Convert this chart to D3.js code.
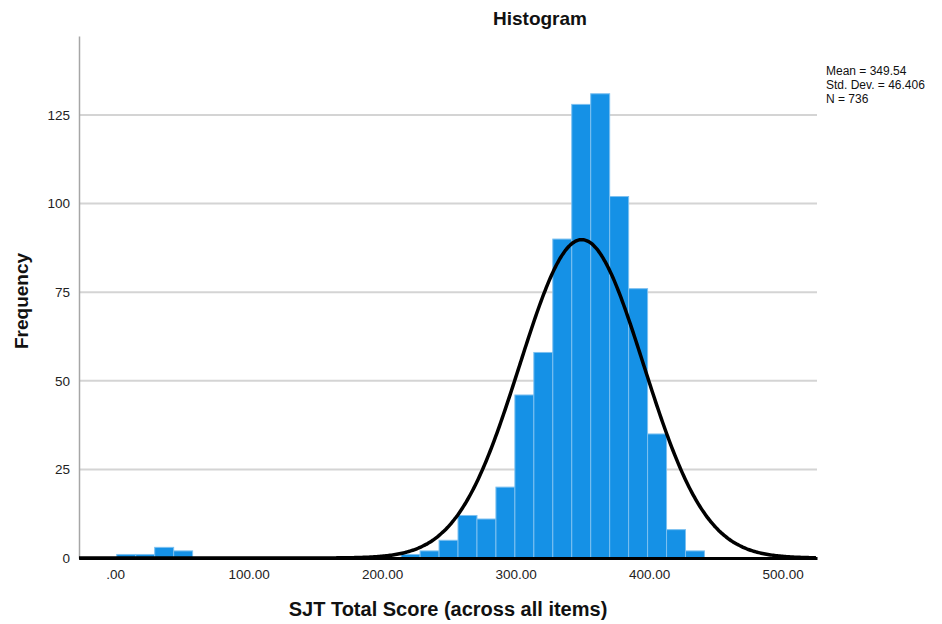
<!DOCTYPE html>
<html>
<head>
<meta charset="utf-8">
<script src="https://cdn.jsdelivr.net/npm/d3@7"></script>
<style>
  body { margin: 0; background: #fff; }
  text { font-family: "Liberation Sans", Arial, sans-serif; }
</style>
</head>
<body>
<div id="chart"></div>
<script>
// histogram counts, one per bin, starting at binStart with width binWidth
var binStart = 1.3;
var binWidth = 14.2;
var counts = [1, 1, 3, 2, 0, 0, 0, 0, 0, 0, 0, 0, 0, 0, 0, 1, 2, 5, 12, 11,
  20, 46, 58, 90, 128, 131, 102, 76, 35, 8, 2];

var xTicks = [0, 100, 200, 300, 400, 500];
var yTicks = [0, 25, 50, 75, 100, 125];

var statNames = ["Mean", "Std. Dev.", "N"];
var statValues = ["349.54", "46.406", "736"];
var mean = 349.54, sd = 46.406, n = 736;

var svgWidth = 942;
var svgHeight = 624;

var margin = { top: 36, right: 125, bottom: 66, left: 79 };
var width = svgWidth - margin.left - margin.right;
var height = svgHeight - margin.top - margin.bottom;

var svg = d3.select("#chart")
  .append("svg")
  .attr("width", svgWidth)
  .attr("height", svgHeight);

var chartGroup = svg.append("g")
  .attr("transform", `translate(${margin.left}, ${margin.top})`);

var xLinearScale = d3.scaleLinear()
  .domain([-27, 525.8])
  .range([0, width]);

var yLinearScale = d3.scaleLinear()
  .domain([0, 147.3])
  .range([height, 0]);

// grid lines
chartGroup.append("g")
  .selectAll("line")
  .data(yTicks.slice(1))
  .enter()
  .append("line")
  .attr("x1", 0)
  .attr("x2", width)
  .attr("y1", d => yLinearScale(d))
  .attr("y2", d => yLinearScale(d))
  .attr("stroke", "#d4d4d4")
  .attr("stroke-width", 2);

// bars
chartGroup.append("g")
  .selectAll("rect")
  .data(counts)
  .enter()
  .append("rect")
  .attr("x", (d, i) => xLinearScale(binStart + i * binWidth))
  .attr("width", xLinearScale(binWidth) - xLinearScale(0))
  .attr("y", d => yLinearScale(d))
  .attr("height", d => height - yLinearScale(d))
  .attr("fill", d => d > 0 ? "#1591e6" : "none")
  .attr("stroke", d => d > 0 ? "#7cc0f0" : "none")
  .attr("stroke-width", 1);

// y axis
var leftAxis = d3.axisLeft(yLinearScale)
  .tickValues(yTicks)
  .tickSize(0)
  .tickPadding(9);

var yAxis = chartGroup.append("g")
  .call(leftAxis);
yAxis.select(".domain").attr("stroke", "#a6a6a6").attr("stroke-width", 1.5);
yAxis.selectAll("text")
  .attr("font-size", "13.5px")
  .attr("font-family", "Liberation Sans, Arial, sans-serif")
  .attr("fill", "#222");

// x axis
var bottomAxis = d3.axisBottom(xLinearScale)
  .tickValues(xTicks)
  .tickSize(0)
  .tickPadding(11)
  .tickFormat(d => d === 0 ? ".00" : d3.format(".2f")(d));

var xAxis = chartGroup.append("g")
  .attr("transform", `translate(0, ${height})`)
  .call(bottomAxis);
xAxis.select(".domain").attr("stroke", "#000").attr("stroke-width", 3);
xAxis.selectAll("text")
  .attr("font-size", "13.5px")
  .attr("font-family", "Liberation Sans, Arial, sans-serif")
  .attr("fill", "#222");

// normal curve from the reported mean and std. dev.
var curveX = d3.range(-27, 526, 1);
var normal = x => n * binWidth * Math.exp(-0.5 * Math.pow((x - mean) / sd, 2)) / (sd * Math.sqrt(2 * Math.PI));

chartGroup.append("path")
  .datum(curveX)
  .attr("fill", "none")
  .attr("stroke", "#000")
  .attr("stroke-width", 3.5)
  .attr("stroke-linejoin", "round")
  .attr("d", d3.line()
    .x(d => xLinearScale(d))
    .y(d => yLinearScale(normal(d)))
    .curve(d3.curveBasis));

// title
svg.append("text")
  .attr("x", 540)
  .attr("y", 25)
  .attr("text-anchor", "middle")
  .attr("font-size", "19px")
  .attr("font-weight", "bold")
  .attr("fill", "#111")
  .text("Histogram");

// axis labels
svg.append("text")
  .attr("x", margin.left + width / 2)
  .attr("y", 616)
  .attr("text-anchor", "middle")
  .attr("font-size", "20px")
  .attr("font-weight", "bold")
  .attr("fill", "#111")
  .text("SJT Total Score (across all items)");

svg.append("text")
  .attr("transform", "rotate(-90)")
  .attr("x", -301)
  .attr("y", 28)
  .attr("text-anchor", "middle")
  .attr("font-size", "19px")
  .attr("font-weight", "bold")
  .attr("fill", "#111")
  .text("Frequency");

// stats box
svg.append("g")
  .selectAll("text")
  .data(statNames)
  .enter()
  .append("text")
  .attr("x", 826)
  .attr("y", (d, i) => 75 + i * 14)
  .attr("font-size", "12px")
  .attr("fill", "#111")
  .text((d, i) => `${d} = ${statValues[i]}`);
</script>
</body>
</html>
